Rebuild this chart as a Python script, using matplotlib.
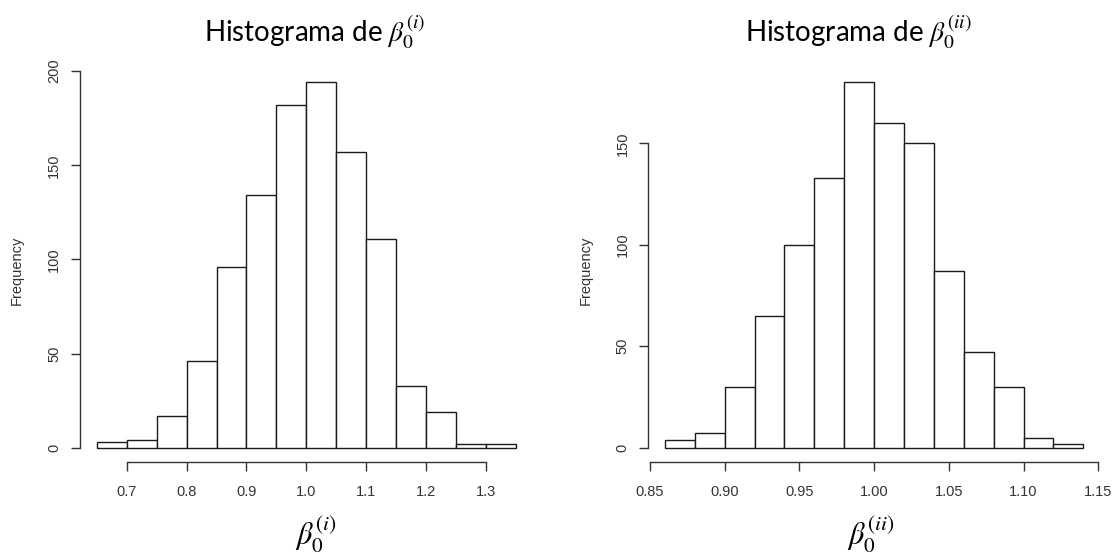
import numpy as np
import matplotlib
matplotlib.use("Agg")
import matplotlib.pyplot as plt

plt.rcParams["mathtext.fontset"] = "stix"

# bootstrap histograms of beta_0 under the two schemes
edges_i = [0.65, 0.70, 0.75, 0.80, 0.85, 0.90, 0.95, 1.00, 1.05, 1.10, 1.15, 1.20, 1.25, 1.30, 1.35]
counts_i = [3, 4, 17, 46, 96, 134, 182, 194, 157, 111, 33, 19, 2, 2]
xticks_i = [0.7, 0.8, 0.9, 1.0, 1.1, 1.2, 1.3]
xticklabels_i = ["0.7", "0.8", "0.9", "1.0", "1.1", "1.2", "1.3"]
yticks_i = [0, 50, 100, 150, 200]

edges_ii = [0.86, 0.88, 0.90, 0.92, 0.94, 0.96, 0.98, 1.00, 1.02, 1.04, 1.06, 1.08, 1.10, 1.12, 1.14]
counts_ii = [4, 7, 30, 65, 100, 133, 180, 160, 150, 87, 47, 30, 5, 2]
xticks_ii = [0.85, 0.90, 0.95, 1.00, 1.05, 1.10, 1.15]
xticklabels_ii = ["0.85", "0.90", "0.95", "1.00", "1.05", "1.10", "1.15"]
yticks_ii = [0, 50, 100, 150]

titles = [r"Histograma de $\beta_0^{(i)}$", r"Histograma de $\beta_0^{(ii)}$"]
xlabels = [r"$\beta_0^{(i)}$", r"$\beta_0^{(ii)}$"]

TXT = "#333333"
W, H = 1115, 554


def r_hist(ax, edges, counts, xticks, xticklabels, yticks):
    """Histogram drawn with R-style detached axes."""
    edges = np.asarray(edges)
    counts = np.asarray(counts)
    ax.bar(edges[:-1], counts, width=np.diff(edges), align="edge",
           facecolor="white", edgecolor="#1a1a1a", linewidth=1.0)
    # R pads the range by 4% on each side
    xr = edges[-1] - edges[0]
    ax.set_xlim(edges[0] - 0.04 * xr, edges[-1] + 0.04 * xr)
    ymax = counts.max()
    ax.set_ylim(-0.04 * ymax, ymax * 1.04)
    for s in ["top", "right"]:
        ax.spines[s].set_visible(False)
    ax.spines["left"].set_bounds(yticks[0], yticks[-1])
    ax.spines["bottom"].set_bounds(xticks[0], xticks[-1])
    for s in ["left", "bottom"]:
        ax.spines[s].set_linewidth(1.0)
        ax.spines[s].set_color("#333333")
    ax.set_xticks(xticks)
    ax.set_xticklabels(xticklabels)
    ax.set_yticks(yticks)
    ax.set_yticklabels([str(v) for v in yticks], rotation=90, va="center")
    ax.tick_params(axis="both", length=6.5, width=1.0, color="#333333",
                   labelsize=10.5, labelcolor=TXT)
    ax.tick_params(axis="x", pad=10)
    ax.tick_params(axis="y", pad=7)
    for lab in ax.get_xticklabels() + ax.get_yticklabels():
        lab.set_family("Liberation Sans")


fig = plt.figure(figsize=(W / 100, H / 100), dpi=100)
ax1 = fig.add_axes([80 / W, 1 - 462.3 / H, 452.7 / W, 394.5 / H])
ax2 = fig.add_axes([648.2 / W, 1 - 462.3 / H, 451.9 / W, 394.5 / H])

r_hist(ax1, edges_i, counts_i, xticks_i, xticklabels_i, yticks_i)
r_hist(ax2, edges_ii, counts_ii, xticks_ii, xticklabels_ii, yticks_ii)

for xc in [17, 586]:
    fig.text(xc / W, 1 - 270 / H, "Frequency", rotation=90, ha="center",
             va="center", family="Liberation Sans", fontsize=10.5, color=TXT)

# titles and axis names sit slightly off the axes centre
fig.text(315 / W, 1 - 32 / H, titles[0], ha="center", va="center",
         family="Lato", fontsize=20)
fig.text(858 / W, 1 - 32 / H, titles[1], ha="center", va="center",
         family="Lato", fontsize=20)
fig.text(316 / W, 1 - 535 / H, xlabels[0], ha="center", va="center",
         fontsize=22)
fig.text(871 / W, 1 - 535 / H, xlabels[1], ha="center", va="center",
         fontsize=22)

fig.savefig("out.png", dpi=100)
